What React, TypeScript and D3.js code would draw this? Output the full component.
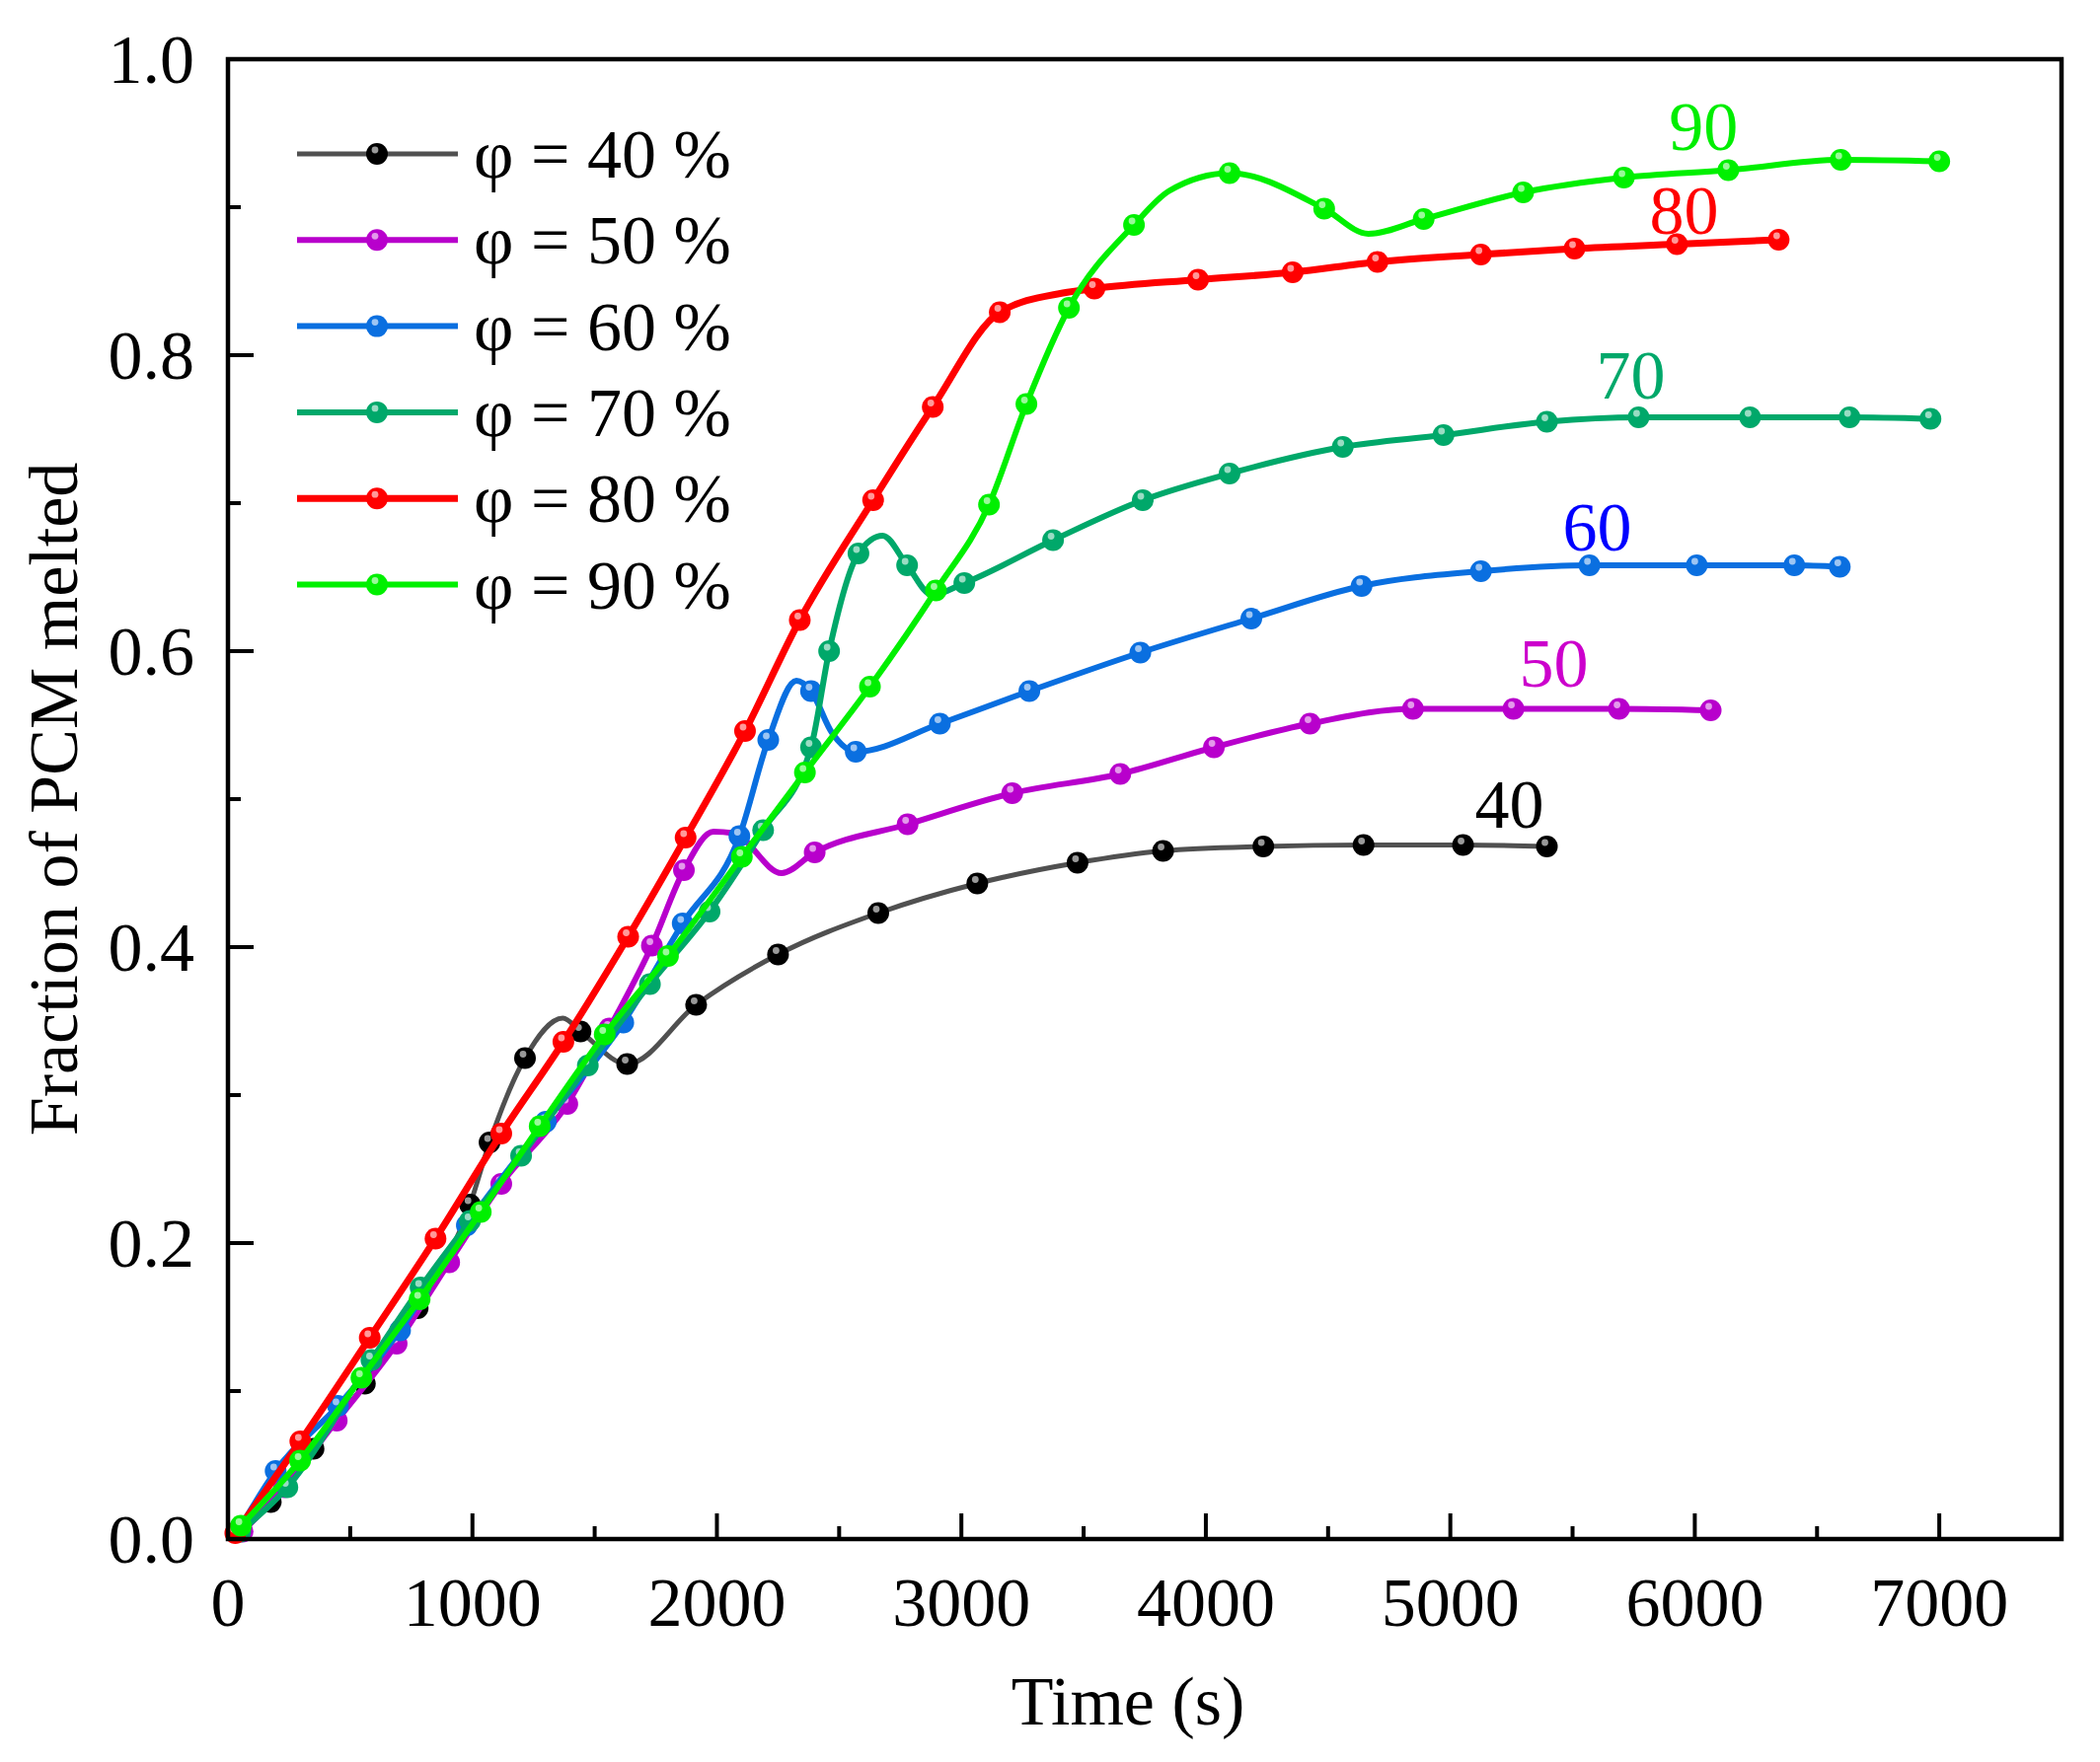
import React, { useMemo } from 'react';
import * as d3 from 'd3';

type Pt = [number, number];

// marker points of each curve [time (s), fraction melted]
const dots40: Pt[] = [
  [44, 0.006], [175, 0.025], [350, 0.061], [560, 0.105], [776, 0.156], [990, 0.226],
  [1070, 0.268], [1215, 0.325], [1442, 0.343], [1633, 0.321], [1915, 0.361], [2250, 0.395],
  [2660, 0.423], [3065, 0.443], [3475, 0.457], [3825, 0.465], [4235, 0.468], [4645, 0.469],
  [5052, 0.469], [5395, 0.468],
];
const dots50: Pt[] = [
  [60, 0.005], [230, 0.035], [445, 0.080], [690, 0.132], [905, 0.187], [1118, 0.240],
  [1388, 0.294], [1560, 0.345], [1734, 0.401], [1865, 0.452], [2400, 0.464], [2780, 0.483],
  [3208, 0.504], [3650, 0.517], [4033, 0.535], [4426, 0.551], [4847, 0.561], [5258, 0.561],
  [5690, 0.561], [6065, 0.560],
];
const dots60: Pt[] = [
  [40, 0.005], [195, 0.046], [450, 0.090], [704, 0.141], [977, 0.212], [1300, 0.282],
  [1617, 0.349], [1860, 0.416], [2092, 0.475], [2210, 0.540], [2385, 0.573], [2568, 0.532],
  [2912, 0.551], [3278, 0.573], [3732, 0.599], [4186, 0.622], [4637, 0.644], [5125, 0.654],
  [5569, 0.658], [6008, 0.658], [6407, 0.658], [6593, 0.657],
];
const dots70: Pt[] = [
  [50, 0.005], [243, 0.035], [587, 0.121], [788, 0.170], [990, 0.215], [1199, 0.259],
  [1472, 0.320], [1726, 0.375], [1970, 0.424], [2189, 0.479], [2385, 0.535], [2459, 0.600],
  [2579, 0.666], [2778, 0.658], [3012, 0.646], [3375, 0.675], [3742, 0.702], [4097, 0.720],
  [4560, 0.738], [4972, 0.746], [5395, 0.755], [5770, 0.758], [6226, 0.758], [6633, 0.758],
  [6964, 0.757],
];
const dots80: Pt[] = [
  [30, 0.004], [296, 0.066], [580, 0.136], [849, 0.203], [1118, 0.274], [1372, 0.336],
  [1637, 0.407], [1872, 0.474], [2115, 0.546], [2339, 0.621], [2639, 0.702], [2883, 0.765],
  [3157, 0.829], [3544, 0.845], [3968, 0.851], [4355, 0.856], [4702, 0.863], [5125, 0.868],
  [5508, 0.872], [5927, 0.875], [6343, 0.878],
];
const dots90: Pt[] = [
  [53, 0.009], [295, 0.053], [546, 0.109], [784, 0.162], [1034, 0.221], [1275, 0.279],
  [1541, 0.341], [1800, 0.394], [2102, 0.461], [2360, 0.518], [2626, 0.576], [2896, 0.641],
  [3113, 0.699], [3266, 0.767], [3440, 0.832], [3706, 0.888], [4097, 0.923], [4484, 0.899],
  [4891, 0.892], [5298, 0.910], [5710, 0.920], [6137, 0.925], [6597, 0.932], [7000, 0.931],
];

// extra points the curves pass through between markers
const bends40: Pt[] = [[1370, 0.352]];
const bends50: Pt[] = [[1986, 0.478], [2067, 0.477], [2265, 0.450]];
const bends60: Pt[] = [[2325, 0.580], [2470, 0.545]];
const bends70: Pt[] = [[2678, 0.678], [2880, 0.638]];
const bends80: Pt[] = [[3415, 0.842]];
const bends90: Pt[] = [[3850, 0.911], [4665, 0.882]];

const seriesNames = ['40', '50', '60', '70', '80', '90'];
const lineColors = ['#505050', '#B800CC', '#0A6FE0', '#00A86A', '#FF0000', '#00F000'];
const dotColors = ['#000000', '#B800CC', '#0A6FE0', '#00A86A', '#FF0000', '#00F000'];
const labelColors = ['#000000', '#CC00CC', '#0000FF', '#00A86A', '#FF0000', '#00EE00'];
const lineWidths = [5, 6, 6, 6, 7, 6];
// end labels: [time, fraction] at the label centre
const labelPos: Pt[] = [
  [5242, 0.497], [5423, 0.592], [5601, 0.684], [5738, 0.787], [5956, 0.898], [6036, 0.955],
];

const xMajor = [0, 1000, 2000, 3000, 4000, 5000, 6000, 7000];
const xMinor = [500, 1500, 2500, 3500, 4500, 5500, 6500];
const yMajor = [0, 0.2, 0.4, 0.6, 0.8, 1.0];
const yMinor = [0.1, 0.3, 0.5, 0.7, 0.9];

const W = 2128;
const H = 1786;
const FONT = '"Liberation Serif", "Times New Roman", serif';
const FS = 70;

const App: React.FC = () => {
  const x = useMemo(() => d3.scaleLinear().domain([0, 7500]).range([231, 2089]), []);
  const y = useMemo(() => d3.scaleLinear().domain([0, 1]).range([1560, 60]), []);

  const series = useMemo(() => {
    const dots = [dots40, dots50, dots60, dots70, dots80, dots90];
    const bends = [bends40, bends50, bends60, bends70, bends80, bends90];
    const line = d3.line<Pt>().x(d => x(d[0])).y(d => y(d[1])).curve(d3.curveMonotoneX);
    return dots.map((ds, i) => ({
      name: seriesNames[i],
      dots: ds,
      path: line([...ds, ...bends[i]].sort((a, b) => a[0] - b[0])) || '',
    }));
  }, [x, y]);

  // filled dot with a small light spot, as in the source plot
  const marker = (cx: number, cy: number, color: string, key: string) => (
    <g key={key}>
      <circle cx={cx} cy={cy} r={11} fill={color} />
      <circle cx={cx - 2} cy={cy - 4} r={3.4} fill="#fff" opacity={0.6} />
    </g>
  );

  return (
    <svg
      width={W}
      height={H}
      style={{ position: 'absolute', left: 0, top: 0, background: '#fff' }}
      fontFamily={FONT}
    >
      {/* curves */}
      {series.map((s, i) => (
        <g key={s.name}>
          <path d={s.path} fill="none" stroke={lineColors[i]} strokeWidth={lineWidths[i]} strokeLinejoin="round" />
          {s.dots.map((d, j) => marker(x(d[0]), y(d[1]), dotColors[i], `${s.name}-${j}`))}
        </g>
      ))}

      {/* end labels */}
      {series.map((s, i) => (
        <text
          key={`lab-${s.name}`}
          x={x(labelPos[i][0])}
          y={y(labelPos[i][1]) + 24}
          textAnchor="middle"
          fontSize={FS}
          fill={labelColors[i]}
        >
          {s.name}
        </text>
      ))}

      {/* frame */}
      <rect x={231} y={60} width={2089 - 231} height={1500} fill="none" stroke="#000" strokeWidth={4.5} />

      {/* x ticks */}
      {xMajor.map(t => (
        <g key={`xt-${t}`}>
          <line x1={x(t)} x2={x(t)} y1={1560} y2={1560 - 26} stroke="#000" strokeWidth={4} />
          <text x={x(t)} y={1648} textAnchor="middle" fontSize={FS}>{t}</text>
        </g>
      ))}
      {xMinor.map(t => (
        <line key={`xm-${t}`} x1={x(t)} x2={x(t)} y1={1560} y2={1560 - 13} stroke="#000" strokeWidth={4} />
      ))}

      {/* y ticks */}
      {yMajor.map(v => (
        <g key={`yt-${v}`}>
          <line x1={231} x2={231 + 26} y1={y(v)} y2={y(v)} stroke="#000" strokeWidth={4} />
          <text x={197} y={y(v) + 24} textAnchor="end" fontSize={FS}>{v.toFixed(1)}</text>
        </g>
      ))}
      {yMinor.map(v => (
        <line key={`ym-${v}`} x1={231} x2={231 + 13} y1={y(v)} y2={y(v)} stroke="#000" strokeWidth={4} />
      ))}

      {/* axis titles */}
      <text x={1143} y={1748} textAnchor="middle" fontSize={FS}>Time (s)</text>
      <text transform="translate(78, 810) rotate(-90)" textAnchor="middle" fontSize={FS}>
        Fraction of PCM melted
      </text>

      {/* legend */}
      {series.map((s, i) => {
        const ry = 156 + i * 87.3;
        return (
          <g key={`leg-${s.name}`}>
            <line x1={301} x2={464} y1={ry} y2={ry} stroke={lineColors[i]} strokeWidth={lineWidths[i]} />
            {marker(382, ry, dotColors[i], `legm-${s.name}`)}
            <text x={480} y={ry + 24} fontSize={FS}>{`φ = ${s.name} %`}</text>
          </g>
        );
      })}
    </svg>
  );
};

export default App;
